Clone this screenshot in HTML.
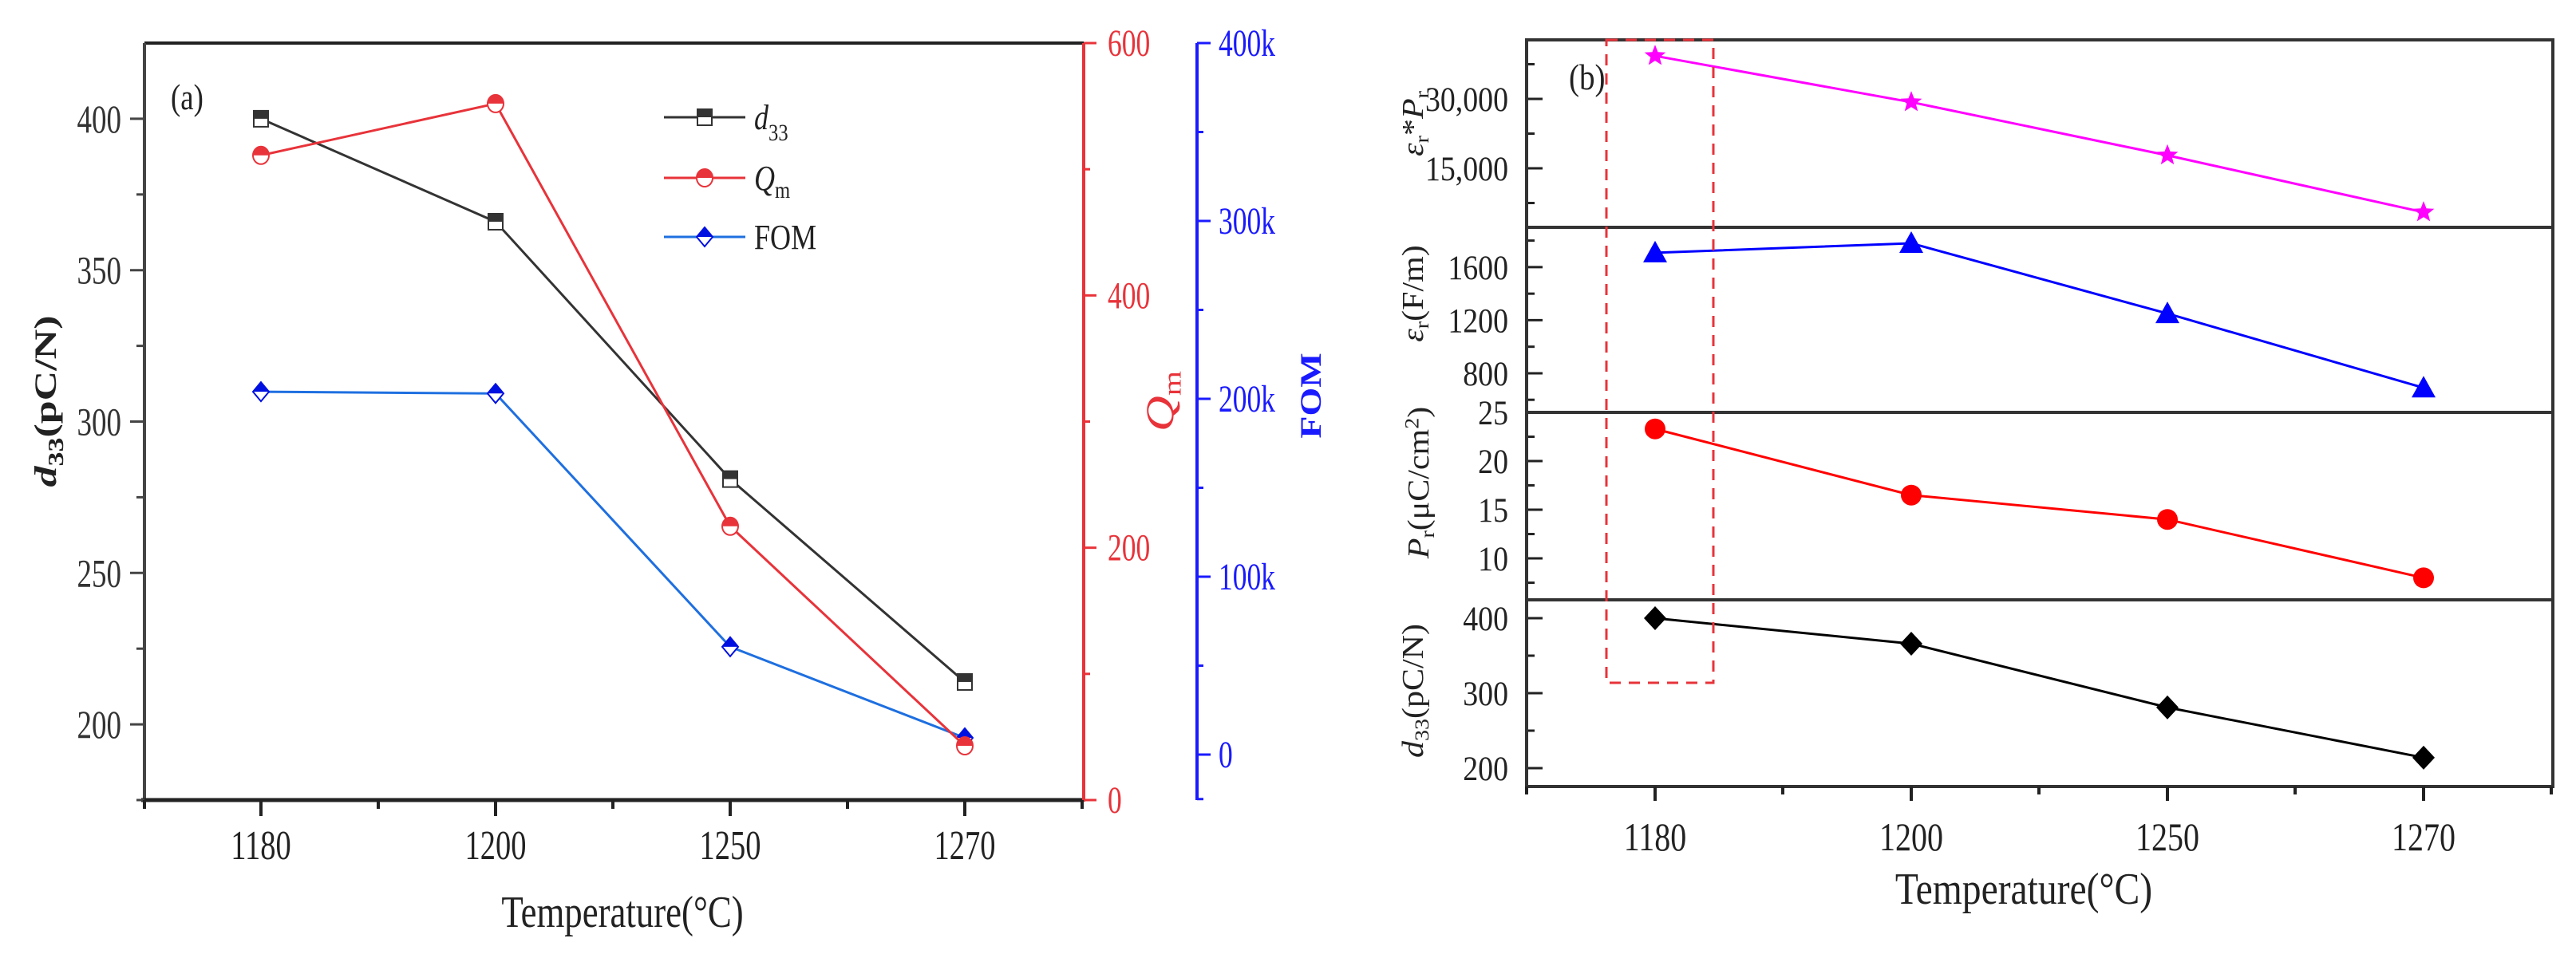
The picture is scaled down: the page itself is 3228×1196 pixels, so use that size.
<!DOCTYPE html>
<html><head><meta charset="utf-8">
<style>
html,body{margin:0;padding:0;background:#fff;}
svg{display:block;}
text{font-family:"Liberation Serif",serif;}
</style></head>
<body>
<svg id="chart" width="3228" height="1196" viewBox="0 0 3228 1196" xmlns="http://www.w3.org/2000/svg">
<rect x="0" y="0" width="3228" height="1196" fill="#fff"/>
<g id="pa"></g>
<g id="pb"></g>
</svg>
<script>
// ---------- data ----------
const categories = ["1180","1200","1250","1270"];
// panel (a)
const d33Values = [400, 366, 281, 214];
const qmValues = [511, 552, 217, 43];
const fomValues = [204000, 203000, 60600, 9400];
const leftTicks = [200, 250, 300, 350, 400];
const qmTicks = [0, 200, 400, 600];
const fomTicks = [0, 100000, 200000, 300000, 400000];
const fomTickLabels = ["0", "100k", "200k", "300k", "400k"];
// panel (b)
const epsPrValues = [39300, 29300, 17800, 5500];
const epsValues = [1708, 1780, 1250, 690];
const prValues = [23.3, 16.5, 14.0, 8.0];
const d33bValues = [400, 366, 281, 214];
const epsPrTicks = [15000, 30000];
const epsPrTickLabels = ["15,000", "30,000"];
const epsTicks = [800, 1200, 1600];
const prTicks = [10, 15, 20, 25];
const d33bTicks = [200, 300, 400];

const NS = "http://www.w3.org/2000/svg";
function mk(parent, tag, attrs){
  const e = document.createElementNS(NS, tag);
  for (const k in attrs) e.setAttribute(k, attrs[k]);
  parent.appendChild(e);
  return e;
}
function txt(parent, x, y, s, size, sx, anchor, fill, extra){
  const t = mk(parent, "text", {transform:`translate(${x},${y}) scale(${sx},1)`, "font-size":size, "text-anchor":anchor||"start", fill:fill||"#222"});
  if (extra) for (const k in extra) t.setAttribute(k, extra[k]);
  t.textContent = s;
  return t;
}

// ================= PANEL A =================
const pa = document.getElementById("pa");
const aL = 181, aR = 1358, aT = 54, aB = 1003;
const ax = i => 327 + 294*i;
const yL = v => aB - (v-175)/250*(aB-aT);
const yQ = v => aB - v/600*(aB-aT);
const yF = v => 946 - v/400000*892;
const grey = "#333", red = "#e8333a", blue = "#1a1aff";

// frame
let e;
e = mk(pa,"line",{x1:aL,y1:aT,x2:aR,y2:aT,stroke:"#222","stroke-width":4});


e = mk(pa,"line",{x1:aL,y1:aT,x2:aL,y2:aB,stroke:"#444","stroke-width":4});


e = mk(pa,"line",{x1:aL-4,y1:aB,x2:aR,y2:aB,stroke:"#222","stroke-width":5});


e = mk(pa,"line",{x1:aR,y1:aT,x2:aR,y2:aB+2,stroke:red,"stroke-width":4});


e = mk(pa,"line",{x1:1500,y1:aT,x2:1500,y2:aB,stroke:blue,"stroke-width":4});



// left ticks
leftTicks.forEach(v=>{
  const y = yL(v);
  mk(pa,"line",{x1:aL-18,y1:y,x2:aL,y2:y,stroke:"#444","stroke-width":3});
  const t = txt(pa, 152, y+17, String(v), 50, 0.74, "end", "#333");
  
  
  if (v < 400) mk(pa,"line",{x1:aL-10,y1:yL(v+25),x2:aL,y2:yL(v+25),stroke:"#444","stroke-width":3});
});
mk(pa,"line",{x1:aL-10,y1:yL(175),x2:aL,y2:yL(175),stroke:"#444","stroke-width":3});
// x ticks
categories.forEach((c,i)=>{
  mk(pa,"line",{x1:ax(i),y1:aB,x2:ax(i),y2:aB+20,stroke:"#222","stroke-width":4});
  mk(pa,"line",{x1:ax(i)+147,y1:aB,x2:ax(i)+147,y2:aB+11,stroke:"#222","stroke-width":4});
  const t = txt(pa, ax(i), 1077, c, 52, 0.74, "middle", "#222");
  
  
});
mk(pa,"line",{x1:aL,y1:aB,x2:aL,y2:aB+11,stroke:"#222","stroke-width":4});
// Qm ticks
qmTicks.forEach(v=>{
  const y = yQ(v);
  mk(pa,"line",{x1:aR,y1:y,x2:aR+16,y2:y,stroke:red,"stroke-width":3});
  const t = txt(pa, 1388, y+16, String(v), 48, 0.74, "start", red);
  
  
  if (v < 600) mk(pa,"line",{x1:aR,y1:yQ(v+100),x2:aR+8,y2:yQ(v+100),stroke:red,"stroke-width":3});
});
// FOM ticks
fomTicks.forEach((v,k)=>{
  const y = yF(v);
  mk(pa,"line",{x1:1500,y1:y,x2:1517,y2:y,stroke:blue,"stroke-width":3});
  const t = txt(pa, 1527, y+16, fomTickLabels[k], 48, 0.74, "start", blue);
  
  
  if (v < 400000) mk(pa,"line",{x1:1500,y1:yF(v+50000),x2:1508,y2:yF(v+50000),stroke:blue,"stroke-width":3});
});
mk(pa,"line",{x1:1500,y1:yF(-25000),x2:1508,y2:yF(-25000),stroke:blue,"stroke-width":3});

// half-filled markers
function halfSquare(g,x,y,col){
  mk(g,"rect",{x:x-9,y:y-10,width:18,height:20,fill:"#fff",stroke:col,"stroke-width":2});
  mk(g,"rect",{x:x-9,y:y-10,width:18,height:10,fill:col});
}
function halfCircle(g,x,y,col){
  mk(g,"ellipse",{cx:x,cy:y,rx:10,ry:11,fill:"#fff",stroke:col,"stroke-width":2});
  mk(g,"path",{d:`M${x-10},${y} A10,11 0 0 1 ${x+10},${y} Z`,fill:col});
}
function halfDiamond(g,x,y,col){
  mk(g,"path",{d:`M${x},${y-12} L${x+10},${y} L${x},${y+12} L${x-10},${y} Z`,fill:"#fff",stroke:col,"stroke-width":2});
  mk(g,"path",{d:`M${x},${y-12} L${x+10},${y} L${x-10},${y} Z`,fill:col});
}
function seriesA(name, vals, yf, lineCol, markCol, markFn){
  const g = mk(pa,"g",{});
  
  
  const pts = vals.map((v,i)=>`${ax(i)},${yf(v)}`).join(" ");
  mk(g,"polyline",{points:pts,fill:"none",stroke:lineCol,"stroke-width":3});
  vals.forEach((v,i)=>{
    const m = mk(g,"g",{});
    
    
    markFn(m, ax(i), yf(v), markCol);
  });
}
seriesA("fom-series", fomValues, yF, "#1e6fe0", "#0010e0", halfDiamond);
seriesA("d33-series", d33Values, yL, grey, grey, halfSquare);
seriesA("qm-series", qmValues, yQ, red, red, halfCircle);

// legend
const leg = mk(pa,"g",{});


[[147,grey,halfSquare,"d33"],[223,red,halfCircle,"Qm"],[297,"#1e6fe0",halfDiamond,"FOM"]].forEach(r=>{
  const ent = mk(leg,"g",{});
  
  
  mk(ent,"line",{x1:832,y1:r[0],x2:934,y2:r[0],stroke:r[1],"stroke-width":3});
  r[2](ent,883,r[0], r[3]==="FOM" ? "#0010e0" : r[1]);
  const t = mk(ent,"text",{transform:`translate(945,${r[0]+15}) scale(0.82,1)`,"font-size":44,fill:"#222"});
  if (r[3]==="d33"){ t.innerHTML = '<tspan font-style="italic">d</tspan><tspan font-size="30" dy="14">33</tspan>'; }
  else if (r[3]==="Qm"){ t.innerHTML = '<tspan font-style="italic">Q</tspan><tspan font-size="30" dy="10">m</tspan>'; }
  else t.textContent = "FOM";
});
</script>
<script>
// static labels panel A
(function(){
  const pa = document.getElementById("pa");
  pa.insertAdjacentHTML("beforeend",
  '<text transform="translate(214,137) scale(0.8,1)" font-size="46" fill="#222">(a)</text>'+
  '<text transform="translate(70,503) rotate(-90) scale(1,0.75)" text-anchor="middle" font-size="52" font-weight="bold" fill="#222"><tspan font-style="italic">d</tspan><tspan font-size="36" dy="12">33</tspan><tspan dy="-12">(pC/N)</tspan></text>'+
  '<text transform="translate(1470,503) rotate(-90) scale(1,0.8)" text-anchor="middle" font-size="62" fill="#e8333a"><tspan font-style="italic">Q</tspan><tspan font-size="40" dy="12">m</tspan></text>'+
  '<text transform="translate(1655,496) rotate(-90) scale(1,0.8)" text-anchor="middle" font-size="46" font-weight="bold" fill="#1a1aff">FOM</text>'+
  '<text transform="translate(780,1162) scale(0.8,1)" text-anchor="middle" font-size="56" fill="#222">Temperature(°C)</text>');
})();
</script>
<script>
// ================= PANEL B =================
(function(){
const pb = document.getElementById("pb");
const bL = 1913, bR = 3199;
const bx = i => 2074 + 321*i;
const panels = [
  {name:"epsr-pr", top:50, bot:285, min:2240, max:42760, vals:epsPrValues, ticks:epsPrTicks, labels:epsPrTickLabels, minor:7500, col:"#ff00ff", mark:"star"},
  {name:"epsr", top:285, bot:517, min:505, max:1900, vals:epsValues, ticks:epsTicks, labels:epsTicks.map(String), minor:200, col:"#0000ff", mark:"tri"},
  {name:"pr", top:517, bot:752, min:5.74, max:25, vals:prValues, ticks:prTicks, labels:prTicks.map(String), minor:2.5, col:"#ff0000", mark:"circ"},
  {name:"d33", top:752, bot:986, min:175.5, max:424.5, vals:d33bValues, ticks:d33bTicks, labels:d33bTicks.map(String), minor:50, col:"#000", mark:"dia"}
];
panels.forEach(p=>{
  const g = mk(pb,"g",{});
  
  
  const yf = v => p.bot - (v-p.min)/(p.max-p.min)*(p.bot-p.top);
  // ticks
  const t0 = p.ticks[0];
  for (let v = t0 - Math.floor((t0-p.min)/p.minor)*p.minor; v <= p.max; v += p.minor){
    const y = yf(v);
    if (y < p.top+4 || y > p.bot-4) continue;
    const isMaj = p.ticks.some(t=>Math.abs(t-v)<1e-6);
    mk(g,"line",{x1:bL,y1:y,x2:bL+(isMaj?20:10),y2:y,stroke:"#222","stroke-width":3});
  }
  p.ticks.forEach((v,k)=>{
    const t = txt(g, 1890, yf(v)+15, p.labels[k], 43, 0.88, "end", "#222");
    
    
  });
  const pts = p.vals.map((v,i)=>`${bx(i)},${yf(v)}`).join(" ");
  mk(g,"polyline",{points:pts,fill:"none",stroke:p.col,"stroke-width":3});
  p.vals.forEach((v,i)=>{
    const x = bx(i), y = yf(v);
    let m;
    if (p.mark==="star"){
      let d=""; for(let k=0;k<10;k++){const r=k%2?6:14; const a=-Math.PI/2+k*Math.PI/5; d+=(k?"L":"M")+(x+r*Math.cos(a))+","+(y+r*Math.sin(a));}
      m = mk(g,"path",{d:d+"Z",fill:p.col});
    } else if (p.mark==="tri"){
      m = mk(g,"path",{d:`M${x},${y-15} L${x+15},${y+12} L${x-15},${y+12} Z`,fill:p.col});
    } else if (p.mark==="circ"){
      m = mk(g,"circle",{cx:x,cy:y,r:13,fill:p.col});
    } else {
      m = mk(g,"path",{d:`M${x},${y-15} L${x+14},${y} L${x},${y+15} L${x-14},${y} Z`,fill:p.col});
    }
    
    
  });
  const sep = mk(g,"line",{x1:bL,y1:p.top,x2:bR,y2:p.top,stroke:"#333","stroke-width":4});
  
  
});
let e;
e = mk(pb,"rect",{x:bL,y:50,width:bR-bL,height:936,fill:"none",stroke:"#333","stroke-width":4});


e = mk(pb,"rect",{x:2013,y:50,width:134,height:806,fill:"none",stroke:"#e8333a","stroke-width":3,"stroke-dasharray":"14,10"});


categories.forEach((c,i)=>{
  mk(pb,"line",{x1:bx(i),y1:986,x2:bx(i),y2:1004,stroke:"#222","stroke-width":4});
  mk(pb,"line",{x1:bx(i)+160,y1:986,x2:bx(i)+160,y2:996,stroke:"#222","stroke-width":4});
  const t = txt(pb, bx(i), 1066, c, 50, 0.8, "middle", "#222");
  
  
});
mk(pb,"line",{x1:bL,y1:986,x2:bL,y2:996,stroke:"#222","stroke-width":4});
pb.insertAdjacentHTML("beforeend",
 '<text transform="translate(1966,112) scale(0.85,1)" font-size="46" fill="#222">(b)</text>'+
 '<text transform="translate(1783,155) rotate(-90) scale(1,0.9)" text-anchor="middle" font-size="42" fill="#222"><tspan font-style="italic">ε</tspan><tspan font-size="28" dy="8">r</tspan><tspan dy="-8">*</tspan><tspan font-style="italic">P</tspan><tspan font-size="28" dy="8">r</tspan></text>'+
 '<text transform="translate(1783,368) rotate(-90) scale(1,0.9)" text-anchor="middle" font-size="42" fill="#222"><tspan font-style="italic">ε</tspan><tspan font-size="28" dy="8">r</tspan><tspan dy="-8">(F/m)</tspan></text>'+
 '<text transform="translate(1790,605) rotate(-90) scale(1,0.9)" text-anchor="middle" font-size="42" fill="#222"><tspan font-style="italic">P</tspan><tspan font-size="28" dy="8">r</tspan><tspan dy="-8">(μC/cm</tspan><tspan font-size="28" dy="-14">2</tspan><tspan dy="14">)</tspan></text>'+
 '<text transform="translate(1783,866) rotate(-90) scale(1,0.9)" text-anchor="middle" font-size="42" fill="#222"><tspan font-style="italic">d</tspan><tspan font-size="28" dy="8">33</tspan><tspan dy="-8">(pC/N)</tspan></text>'+
 '<text transform="translate(2536,1133) scale(0.85,1)" text-anchor="middle" font-size="56" fill="#222">Temperature(°C)</text>');
})();
</script>
</body></html>
